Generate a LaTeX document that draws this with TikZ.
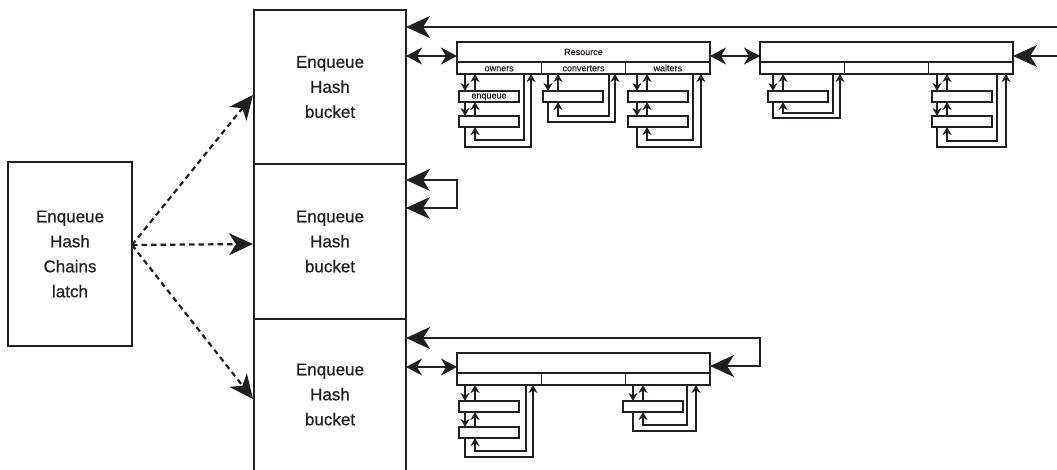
\documentclass[tikz,border=0pt]{standalone}
\usepackage{fontspec}
\setmainfont{Liberation Sans}[FakeBold=0.7]
\usetikzlibrary{arrows.meta,calc}
\definecolor{ink}{RGB}{35,31,32}
\tikzset{
  bucketbox/.style={draw=ink, line width=1.8pt, inner sep=0pt, outer sep=0pt, align=center,
    font=\fontsize{17}{25}\selectfont, text=ink, minimum width=152pt},
  latchbox/.style={draw=ink, line width=1.5pt, inner sep=0pt, outer sep=0pt, align=center,
    font=\fontsize{17}{25}\selectfont, text=ink, minimum width=124pt, minimum height=184pt},
  rtop/.style={draw=ink, line width=1.6pt, inner sep=0pt, outer sep=0pt, minimum width=253pt,
    minimum height=20pt, font=\fontsize{9}{10}\selectfont, text=ink},
  rsub/.style={draw=ink, line width=1.6pt, inner sep=0pt, outer sep=0pt, minimum width=84.333pt,
    minimum height=12pt, font=\fontsize{9}{10}\selectfont, text=ink, text height=6.5pt, text depth=0pt},
  elem/.style={draw=ink, line width=1.5pt, inner sep=0pt, outer sep=0pt, minimum width=60pt,
    minimum height=11pt, font=\fontsize{9}{10}\selectfont, text=ink, text height=5pt, text depth=1pt},
  lnk/.style={draw=ink, line width=1.4pt, -{Stealth[length=8pt,width=9pt,inset=2.5pt]}},
  hugetip/.tip={Stealth[length=24pt,width=22pt,inset=7pt]},
  midtip/.tip={Stealth[length=16pt,width=17pt,inset=5pt]},
  bigline/.style={draw=ink, line width=2.2pt},
  dbl/.style={draw=ink, line width=1.8pt, {midtip}-{midtip}},
  dotarrow/.style={draw=ink, line width=2.2pt, dash pattern=on 5.5pt off 4pt, -{hugetip}},
}
\newcommand\ResBlock[7]{%
  \node[rtop, anchor=north west] (#1) at (#2,#3) {#4};
  \node[rsub, anchor=north west] (#1a) at (#1.south west) {#5};
  \node[rsub, anchor=north west] (#1b) at (#1a.north east) {#6};
  \node[rsub, anchor=north west] (#1c) at (#1b.north east) {#7};
}
% #1 upper node, #2 lower node, #3 x of down arrow, #4 x of up arrow
\newcommand\DownUp[4]{%
  \draw[lnk] (#1.south -| #3,0) -- (#2.north -| #3,0);
  \draw[lnk] (#2.north -| #4,0) -- (#1.south -| #4,0);
}
% #1 head cell, #2 last element, #3 xd, #4 xu, #5 inner x, #6 inner y, #7 outer x, #8 outer y
\newcommand\ChainLoop[8]{%
  \draw[lnk] (#1.south -| #5,0) |- (#4,#6) -- (#2.south -| #4,0);
  \draw[lnk] (#2.south -| #3,0) |- (#7,#8) -- (#1.south -| #7,0);
}
\begin{document}
\begin{tikzpicture}[x=1pt,y=-1pt]
\useasboundingbox (0,0) rectangle (1057,470);

% latch
\node[latchbox] (latch) at (70,254) {Enqueue\\Hash\\Chains\\latch};

% buckets
\node[bucketbox, minimum height=154pt] (bk1) at (330,87) {Enqueue\\Hash\\bucket};
\node[bucketbox, minimum height=155pt] (bk2) at (330,241.5) {Enqueue\\Hash\\bucket};
\node[bucketbox, draw=none, minimum height=151pt] (bk3) at (330,394.5) {Enqueue\\Hash\\bucket};
\draw[ink, line width=1.8pt] (bk3.south west) -- (bk3.north west) -- (bk3.north east) -- (bk3.south east);

% dotted arrows
\coordinate (src) at ($(latch.east)+(0,-9)$);
\coordinate (t1) at (253,95);
\coordinate (t2) at (253,244);
\coordinate (t3) at (253,399);
\draw[dotarrow] (src) -- (t1);
\draw[dotarrow] (src) -- (t2);
\draw[dotarrow] (src) -- (t3);

% resource blocks
\ResBlock{R1}{457}{42}{Resource}{owners}{converters}{waiters}
\ResBlock{R2}{760}{42}{}{}{}{}
\ResBlock{R3}{457}{353}{}{}{}{}

% top chain
\coordinate (rt) at (1057,27);
\draw[bigline, -{hugetip}] (rt) -- (rt -| bk1.east);
\coordinate (rr) at (1057,56);
\draw[bigline, -{hugetip}] (rr) -- (rr -| R2.east);
\draw[dbl] (bk1.east |- 0,56) -- (R1.west |- 0,56);
\draw[dbl] (R1.east |- 0,56) -- (R2.west |- 0,56);

% middle bucket self loop
\draw[bigline, {hugetip}-{hugetip}] (bk2.east |- 0,180) -| (457,208) -- (bk2.east |- 0,208);

% bottom chain
\draw[bigline, {hugetip}-{hugetip}] (bk3.east |- 0,338) -| (760,366) -- (R3.east |- 0,366);
\draw[dbl] (bk3.east |- 0,367) -- (R3.west |- 0,367);

% block 1 : owners
\node[elem, anchor=north west] (E11a) at (459,91) {enqueue};
\node[elem, anchor=north west] (E11b) at (459,116) {};
\DownUp{R1a}{E11a}{465}{475}
\DownUp{E11a}{E11b}{465}{475}
\ChainLoop{R1a}{E11b}{465}{475}{524}{140}{531}{147}
% block 1 : converters
\node[elem, anchor=north west] (E12a) at (543,91) {};
\DownUp{R1b}{E12a}{548}{558}
\ChainLoop{R1b}{E12a}{548}{558}{609}{116}{615}{122}
% block 1 : waiters
\node[elem, anchor=north west] (E13a) at (628,91) {};
\node[elem, anchor=north west] (E13b) at (628,116) {};
\DownUp{R1c}{E13a}{637}{647}
\DownUp{E13a}{E13b}{637}{647}
\ChainLoop{R1c}{E13b}{637}{647}{693}{140}{701}{147}

% block 2
\node[elem, anchor=north west] (E21a) at (768,91) {};
\DownUp{R2a}{E21a}{773}{783}
\ChainLoop{R2a}{E21a}{773}{783}{833}{113}{840}{118}
\node[elem, anchor=north west] (E23a) at (932,91) {};
\node[elem, anchor=north west] (E23b) at (932,116) {};
\DownUp{R2c}{E23a}{937}{947}
\DownUp{E23a}{E23b}{937}{947}
\ChainLoop{R2c}{E23b}{937}{947}{997}{141}{1006}{147}

% block 3
\node[elem, anchor=north west] (E31a) at (459,401) {};
\node[elem, anchor=north west] (E31b) at (459,427) {};
\DownUp{R3a}{E31a}{465}{475}
\DownUp{E31a}{E31b}{465}{475}
\ChainLoop{R3a}{E31b}{465}{475}{526}{451}{533}{457}
\node[elem, anchor=north west] (E33a) at (623,401) {};
\DownUp{R3c}{E33a}{633}{643}
\ChainLoop{R3c}{E33a}{633}{643}{687}{425}{696}{431}
\end{tikzpicture}
\end{document}
